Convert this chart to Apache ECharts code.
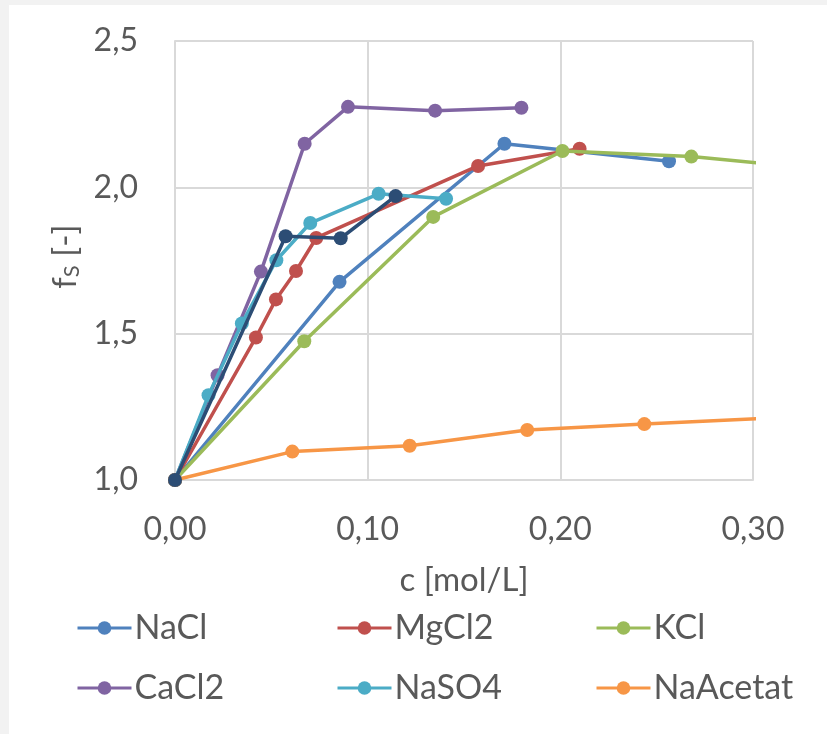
<!DOCTYPE html>
<html>
<head>
<meta charset="utf-8">
<script src="https://cdn.jsdelivr.net/npm/echarts@6/dist/echarts.min.js"></script>
<style>
html,body{margin:0;padding:0;background:#f2f2f2;}
#frame{position:absolute;left:9px;top:5px;width:818px;height:729px;background:#fff;}
#chart{position:absolute;left:-9px;top:-5px;width:827px;height:734px;}
</style>
</head>
<body>
<div id="frame"><div id="chart"></div></div>
<script>
const seriesNames = ['NaCl', 'MgCl2', 'KCl', 'CaCl2', 'NaSO4', 'NaAcetat'];
const colors = ['#4F81BD', '#C0504D', '#9BBB59', '#8064A2', '#4BACC6', '#F79646', '#2C4D75'];
const xTicks = [0, 0.1, 0.2, 0.3];
const yTicks = [1.0, 1.5, 2.0, 2.5];

const NaCl = [[0, 1.0], [0.0854, 1.677], [0.171, 2.149], [0.2564, 2.089]];
const MgCl2 = [[0, 1.0], [0.042, 1.487], [0.0524, 1.617], [0.0628, 1.714], [0.0733, 1.827], [0.1573, 2.073], [0.210, 2.132]];
const KCl = [[0, 1.0], [0.0671, 1.474], [0.134, 1.899], [0.2011, 2.124], [0.268, 2.105], [0.335, 2.063]];
const CaCl2 = [[0, 1.0], [0.0221, 1.358], [0.0446, 1.712], [0.0673, 2.149], [0.0898, 2.275], [0.135, 2.262], [0.1798, 2.272]];
const NaSO4 = [[0, 1.0], [0.0174, 1.290], [0.0347, 1.535], [0.0526, 1.751], [0.0702, 1.878], [0.1057, 1.978], [0.1407, 1.961]];
const NaAcetat = [[0, 1.0], [0.0609, 1.097], [0.1218, 1.117], [0.1828, 1.171], [0.2436, 1.191], [0.3045, 1.210]];
const Series7 = [[0, 1.0], [0.0574, 1.833], [0.086, 1.826], [0.1145, 1.970]];

const allData = [NaCl, MgCl2, KCl, CaCl2, NaSO4, NaAcetat, Series7];
const allNames = seriesNames.concat(['Series7']);

const font = 'Lato, "Open Sans", sans-serif';
const textColor = '#595959';

const chart = echarts.init(document.getElementById('chart'), null, {renderer: 'canvas'});

const legendCols = [71, 331, 590];
const legendRows = [606, 666];
const legends = seriesNames.map((n, i) => ({
  data: [n],
  left: legendCols[i % 3],
  top: legendRows[Math.floor(i / 3)],
  itemWidth: 54,
  itemHeight: 17,
  itemGap: 0,
  lineStyle: {width: 3},
  textStyle: {fontFamily: font, fontSize: 34, color: textColor, padding: [0, 0, 0, -2]},
  selectedMode: false
}));

chart.setOption({
  backgroundColor: 'transparent',
  animation: false,
  color: colors,
  legend: legends,
  grid: {left: 175, right: 74, top: 41, bottom: 254, containLabel: false},
  xAxis: {
    type: 'value',
    min: xTicks[0], max: xTicks[xTicks.length - 1], interval: 0.1,
    name: 'c [mol/L]',
    nameLocation: 'middle',
    nameGap: 84,
    nameTextStyle: {fontFamily: font, fontSize: 33, color: textColor},
    axisLine: {show: true, lineStyle: {color: '#d9d9d9', width: 2}},
    axisTick: {show: false},
    splitLine: {show: true, lineStyle: {color: '#d9d9d9', width: 2}},
    axisLabel: {fontFamily: font, fontSize: 32, color: textColor, margin: 34,
      formatter: v => v.toFixed(2).replace('.', ',')}
  },
  yAxis: {
    type: 'value',
    min: yTicks[0], max: yTicks[yTicks.length - 1], interval: 0.5,
    name: '{a|f}{b|S}{a| [-]}',
    nameLocation: 'middle',
    nameGap: 78,
    nameRotate: 90,
    nameTextStyle: {
      fontFamily: font, fontSize: 33, color: textColor,
      padding: [0, 0, 0, 8],
      rich: {
        a: {fontFamily: font, fontSize: 33, color: textColor},
        b: {fontFamily: font, fontSize: 22, color: textColor, verticalAlign: 'bottom', padding: [12, 0, 0, 0]}
      }
    },
    axisLine: {show: true, lineStyle: {color: '#d9d9d9', width: 2}},
    axisTick: {show: false},
    splitLine: {show: true, lineStyle: {color: '#d9d9d9', width: 2}},
    axisLabel: {fontFamily: font, fontSize: 32, color: textColor, margin: 37,
      formatter: v => v.toFixed(1).replace('.', ',')}
  },
  series: allData.map((d, i) => ({
    name: allNames[i],
    type: 'line',
    data: d,
    clip: true,
    symbol: 'circle',
    symbolSize: 14,
    lineStyle: {width: 3.5, color: colors[i]},
    itemStyle: {color: colors[i]},
    z: 2 + i
  }))
});
</script>
</body>
</html>
